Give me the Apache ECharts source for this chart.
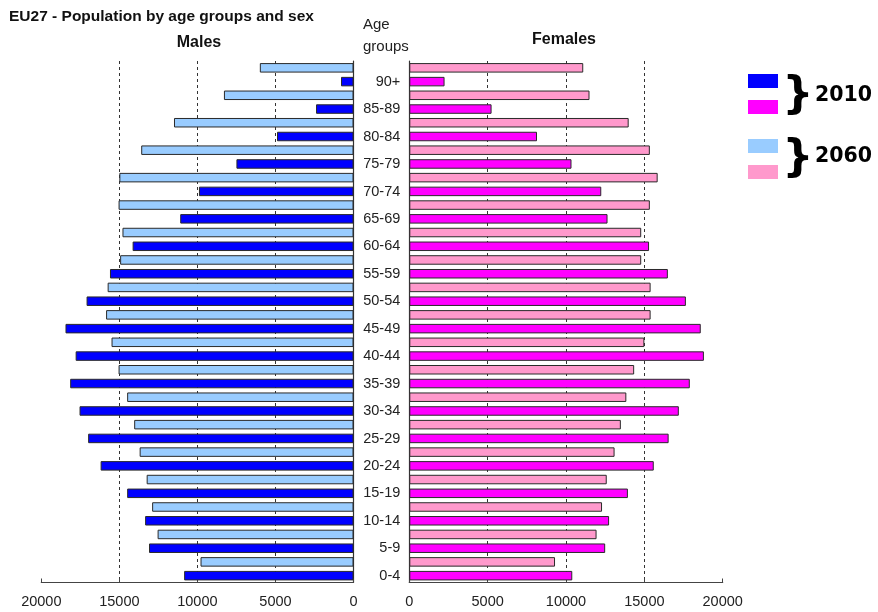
<!DOCTYPE html>
<html>
<head>
<meta charset="utf-8">
<script src="https://cdn.jsdelivr.net/npm/echarts@6/dist/echarts.min.js"></script>
<style>html,body{margin:0;padding:0;background:#fff}#c{width:878px;height:612px}</style>
</head>
<body>
<div id="c"></div>
<script>
var ageGroups = ['0-4','5-9','10-14','15-19','20-24','25-29','30-34','35-39','40-44','45-49','50-54','55-59','60-64','65-69','70-74','75-79','80-84','85-89','90+'];
var males2010 = [10850,13100,13350,14500,16200,17000,17550,18150,17800,18450,17100,15600,14150,11100,9900,7500,4900,2400,800];
var males2060 = [9800,12550,12900,13250,13700,14050,14500,15050,15500,15850,15750,14950,14800,15050,15000,13600,11500,8300,6000];
var females2010 = [10400,12500,12750,13950,15600,16550,17200,17900,18800,18600,17650,16500,15300,12650,12250,10350,8150,5250,2250];
var females2060 = [9300,11950,12300,12600,13100,13500,13850,14350,15000,15400,15400,14800,14800,15350,15850,15350,14000,11500,11100];
var xTicks = [0,5000,10000,15000,20000];

var FONT = '"Liberation Sans", Arial, sans-serif';
var chart = echarts.init(document.getElementById('c'), null, {renderer:'canvas'});

function valueAxis(idx, inverse){
  return {
    type:'value', gridIndex:idx, inverse:inverse, min:xTicks[0], max:xTicks[xTicks.length-1], interval:xTicks[1]-xTicks[0],
    axisLine:{show:true, lineStyle:{color:'#444', width:1.2}},
    axisTick:{show:true, inside:true, length:4, lineStyle:{color:'#444'}},
    axisLabel:{color:'#222', fontFamily:FONT, fontSize:14.5, margin:12, formatter:function(v){return String(v);}},
    splitLine:{show:true, showMinLine:false, showMaxLine:false, lineStyle:{color:'#333', type:[3,3], width:1}}
  };
}
var barStyle = function(c){ return {color:c, borderColor:'#2a2a2a', borderWidth:1}; };
var BW = 9.5, GAP = '45%';

chart.setOption({
  animation:false,
  grid:[
    {left:41.3, width:312.2, top:61, height:521.5},
    {left:409.3, width:313.4, top:61, height:521.5}
  ],
  xAxis:[valueAxis(0,true), valueAxis(1,false)],
  yAxis:[
    {type:'category', gridIndex:0, data:ageGroups, position:'right',
     axisLine:{show:true, lineStyle:{color:'#333', width:1.2}}, axisTick:{show:false}, axisLabel:{show:false}},
    {type:'category', gridIndex:1, data:ageGroups, position:'left',
     axisLine:{show:true, lineStyle:{color:'#333', width:1.2}}, axisTick:{show:false},
     axisLabel:{color:'#222', fontFamily:FONT, fontSize:14.5, margin:9, verticalAlign:'top', lineHeight:14}}
  ],
  series:[
    {name:'Males 2060', type:'bar', xAxisIndex:0, yAxisIndex:0, data:males2060, barWidth:BW, barGap:GAP, itemStyle:barStyle('#99ccff')},
    {name:'Males 2010', type:'bar', xAxisIndex:0, yAxisIndex:0, data:males2010, barWidth:BW, barGap:GAP, itemStyle:barStyle('#0000ff')},
    {name:'Females 2060', type:'bar', xAxisIndex:1, yAxisIndex:1, data:females2060, barWidth:BW, barGap:GAP, itemStyle:barStyle('#ff99cc')},
    {name:'Females 2010', type:'bar', xAxisIndex:1, yAxisIndex:1, data:females2010, barWidth:BW, barGap:GAP, itemStyle:barStyle('#ff00ff')}
  ],
  graphic:[
    {type:'text', left:9, top:9, style:{text:'EU27 - Population by age groups and sex', font:'bold 15.5px '+FONT, fill:'#111'}},
    {type:'text', x:199, y:43, style:{text:'Males', font:'bold 16px '+FONT, fill:'#111', align:'center', verticalAlign:'middle'}},
    {type:'text', x:564, y:40, style:{text:'Females', font:'bold 16px '+FONT, fill:'#111', align:'center', verticalAlign:'middle'}},
    {type:'text', x:363, y:25, style:{text:'Age', font:'15px '+FONT, fill:'#222', verticalAlign:'middle'}},
    {type:'text', x:363, y:47, style:{text:'groups', font:'15px '+FONT, fill:'#222', verticalAlign:'middle'}},
    {type:'rect', shape:{x:748, y:74, width:30, height:14}, style:{fill:'#0000ff'}},
    {type:'rect', shape:{x:748, y:100, width:30, height:14}, style:{fill:'#ff00ff'}},
    {type:'rect', shape:{x:748, y:139, width:30, height:14}, style:{fill:'#99ccff'}},
    {type:'rect', shape:{x:748, y:165, width:30, height:14}, style:{fill:'#ff99cc'}},
    {type:'text', x:798, y:97, style:{text:'}', font:'bold 44px "DejaVu Sans"', fill:'#000', align:'center', verticalAlign:'middle'}},
    {type:'text', x:798, y:160, style:{text:'}', font:'bold 44px "DejaVu Sans"', fill:'#000', align:'center', verticalAlign:'middle'}},
    {type:'text', x:815, y:96, style:{text:'2010', font:'bold 20.5px "DejaVu Sans"', fill:'#000', verticalAlign:'middle'}},
    {type:'text', x:815, y:157, style:{text:'2060', font:'bold 20.5px "DejaVu Sans"', fill:'#000', verticalAlign:'middle'}}
  ]
});
</script>
</body>
</html>
